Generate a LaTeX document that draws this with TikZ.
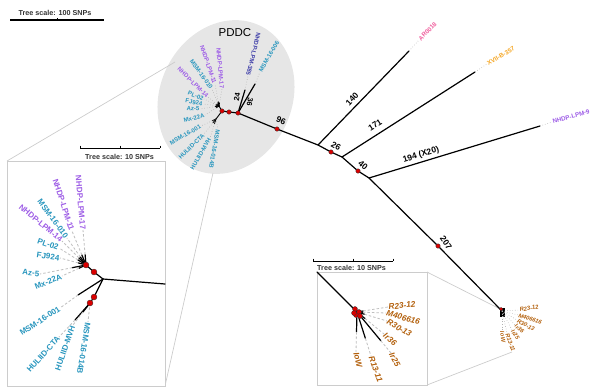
\documentclass[tikz,border=0pt]{standalone}
\usepackage{fontspec}
\setmainfont{Liberation Sans}
\usetikzlibrary{calc}
\definecolor{vio}{HTML}{9D5CE6}
\definecolor{tea}{HTML}{2896BE}
\definecolor{nav}{HTML}{3C3CA8}
\definecolor{pnk}{HTML}{F0609E}
\definecolor{org}{HTML}{F5A623}
\definecolor{brn}{HTML}{B3600C}
\definecolor{ell}{HTML}{E6E6E6}
\tikzset{br/.style = {line width=1.2pt, line cap=round},
    lf/.style = {gray!60, dotted, line width=0.6pt},
    ld/.style = {gray!50, dash pattern=on 2.5pt off 2pt, line width=0.8pt},
    gl/.style = {gray!40, line width=0.7pt},
    rd/.style = {circle, fill=red!85!black, draw=black!80, line width=0.3pt, minimum size=4.5pt, inner sep=0pt},
    ri/.style = {rd, minimum size=6pt},
    bl/.style = {font=\fontsize{8.5}{9}\selectfont\bfseries, inner sep=0pt},
    sl/.style = {font=\fontsize{7.5}{8}\selectfont\bfseries, inner sep=0pt},
    sc/.style = {font=\fontsize{7.2}{8}\selectfont\bfseries, text=black!80, inner sep=0pt},
    tm/.style = {font=\fontsize{6.2}{7}\selectfont\bfseries, inner sep=0.5pt, anchor=west},
    tp/.style = {font=\fontsize{6}{7}\selectfont\bfseries, inner sep=0.5pt},
    ti/.style = {font=\fontsize{8}{9}\selectfont\bfseries, text=tea, inner sep=0.5pt},
    tr/.style = {font=\fontsize{8.2}{9}\selectfont\bfseries\itshape, text=brn, inner sep=0.5pt, anchor=west},
    ts/.style = {font=\fontsize{5.8}{7}\selectfont\bfseries\itshape, text=brn, inner sep=0.5pt, anchor=west}}

\begin{document}
\begin{tikzpicture}[x=1pt, y=-1pt]
    \useasboundingbox (0,0) rectangle (600,391);

    \node[sc] (sc1) at (55,13) {Tree scale: 100 SNPs};
    \coordinate (b1) at (10,20); \coordinate (b2) at (104,20);
    \draw[line width=1.6pt] (b1) -- (b2);
    \draw[line width=0.6pt] (57,18) -- (57,20);

    \begin{scope}[shift={(226,97)}, rotate=-25]
        \fill[ell] (0,0) ellipse [x radius=66, y radius=79];
    \end{scope}
    \node[font=\fontsize{11.5}{12}\selectfont] (pddc) at (235,33) {PDDC};

    \coordinate (c1) at (175,62);  \coordinate (c2) at (213,173);
    \coordinate (lb1) at (7,161);  \coordinate (lb2) at (165,386);
    \coordinate (rb1) at (317,272); \coordinate (rb2) at (427,385);
    \coordinate (rb3) at (427,272); \coordinate (rb4) at (427,385);
    \coordinate (c3) at (500,309); \coordinate (c4) at (512,352);
    \draw[gl] (c1) -- (lb1);
    \draw[gl] (c2) -- (lb2);
    \draw[gl] (rb3) -- (c3);
    \draw[gl] (rb4) -- (c4);
    \draw[gl, fill=white] (lb1) rectangle (lb2);
    \draw[gl, fill=white] (rb1) rectangle (rb2);

    \draw[line width=1pt] (80,148) -- (160,148);
    \foreach \x in {80,120,160} \draw[line width=0.6pt] (\x,145.5) -- (\x,148);
    \node[sc, anchor=west] (sc2) at (85,157) {Tree scale: 10 SNPs};
    \draw[line width=1pt] (313,261) -- (393,261);
    \foreach \x in {313,353,393} \draw[line width=0.6pt] (\x,258.5) -- (\x,261);
    \node[sc, anchor=west] (sc3) at (317,268) {Tree scale: 10 SNPs};

    \coordinate (pa) at (238,113);  \coordinate (pb) at (229,112);
    \coordinate (pc) at (222,111);  \coordinate (n96) at (277,129);
    \coordinate (j1) at (318,145);  \coordinate (n26) at (331,152);
    \coordinate (j2) at (342,157);  \coordinate (n40) at (358,171);
    \coordinate (j3) at (369,178);  \coordinate (n207) at (438,246);
    \coordinate (rc) at (502,311);
    \draw[br] (pc) -- (pb) -- (pa) -- (n96) -- (j1) -- (n26) -- (j2) -- (n40) -- (j3) -- (n207) -- (rc);

    \coordinate (e140) at (409,51);
    \coordinate (e171) at (475,72);
    \coordinate (e194) at (540,126);
    \node[tm, text=pnk, rotate=45] (ar) at (419,40) {AR0018};
    \node[tm, text=org, rotate=30] (xv) at (487,64) {XVII-B-357};
    \node[tm, text=vio, rotate=16] (lp9) at (552,122) {NHDP-LPM-9};
    \draw[br] (j1) -- (e140);
    \draw[br] (j2) -- (e171);
    \draw[br] (j3) -- (e194);
    \draw[lf] (e140) -- (ar.west);
    \draw[lf] (e171) -- (xv.west);
    \draw[lf] (e194) -- (lp9.west);

    \node[bl, rotate=-22] (t96) at (281,121) {96};
    \node[bl, rotate=47] (t140) at (352,99) {140};
    \node[bl, rotate=-30] (t26) at (336,146) {26};
    \node[bl, rotate=32] (t171) at (375,125) {171};
    \node[bl, rotate=-40] (t40) at (363,165) {40};
    \node[bl, rotate=17] (t194) at (421,155) {194 (X20)};
    \node[bl, rotate=-55] (t207) at (446,243) {207};

    \coordinate (e24) at (245,90);  \coordinate (e36) at (255,84);
    \coordinate (pu) at (219,106);  \coordinate (pd) at (216,119);
    \draw[br] (pa) -- (e24);
    \draw[br] (pa) -- (e36);
    \draw[br, line width=0.9pt] (pc) -- (pu);
    \draw[br, line width=0.9pt] (pc) -- (pd);
    \node[sl, rotate=80] (t24) at (237,97) {24};
    \node[sl, rotate=-100] (t36) at (250,102) {36};
    \node[tp, text=nav, rotate=-104, anchor=east] (p385) at (248,76) {NHDP-LPM-385};
    \node[tp, text=tea, rotate=60, anchor=west] (p006) at (260,72) {MSM-16-006};
    \draw[lf] (e24) -- (p385.east);
    \draw[lf] (e36) -- (p006.west);
    \foreach \lab/\x/\y/\ang/\col [count=\i] in {NHDP-LPM-17/222/89/-85/vio, NHDP-LPM-11/215/84/-71/vio,
        MSM-16-010/212/89/-54/tea, NHDP-LPM-14/208/97/-44/vio, PL-02/204/99/-22/tea,
        FJ924/203/104/-10/tea, Az-5/200/109/-4/tea, Mx-22A/205/115/15/tea} {
        \node[tp, text=\col, rotate=\ang, anchor=east] (pt\i) at (\x,\y) {\lab};
        \draw[br, line width=0.8pt] (pu) -- ($(pu)!.2!(pt\i.east)$) coordinate (ps\i);
        \draw[lf] (ps\i) -- (pt\i.east);
    }
    \foreach \lab/\x/\y/\ang [count=\i] in {MSM-16-001/201/126/30, HULIID-CTA/204/134/45, HULIID-MVH/210/138/60} {
        \node[tp, text=tea, rotate=\ang, anchor=east] (pw\i) at (\x,\y) {\lab};
        \draw[br, line width=0.8pt] (pd) -- ($(pd)!.25!(pw\i.east)$) coordinate (pv\i);
        \draw[lf] (pv\i) -- (pw\i.east);
    }
    \node[tp, text=tea, rotate=-100, anchor=west] (p014) at (218,129) {MSM-16-014B};
    \draw[lf] (pd) -- (p014.west);

    \fill (500,308) rectangle (505,317);
    \foreach \lab/\x/\y/\ang [count=\i] in {R23-12/519/310/10, M406616/518/315/-18, R30-13/517/320/-30,
        Ir36/515/325/-40, Ir25/512/330/-55, R13-11/507/333/-70, IoW/502/331/-82} {
        \node[ts, rotate=\ang] (m\i) at (\x,\y) {\lab};
        \draw[lf] (rc) -- (m\i.west);
    }

    \foreach \n in {pa, pb, pc, n96, n26, n40, n207} \node[rd] (d\n) at (\n) {};
    \node[rd, minimum size=3.5pt] (drc) at (501,309) {};

    \coordinate (ir) at (103,279);  \coordinate (ie) at (165,284);
    \coordinate (q1) at (94,272);   \coordinate (q2) at (86,265);
    \coordinate (q3) at (94,297);   \coordinate (q4) at (90,303);
    \draw[br] (ie) -- (ir) -- (q1) -- (q2);
    \draw[br] (ir) -- (q3) -- (q4);
    \foreach \lab/\x/\y/\ang/\col [count=\i] in {NHDP-LPM-17/83/230/-85/vio, NHDP-LPM-11/72/231/-72/vio,
        MSM-16-010/67/238/-54/tea, NHDP-LPM-14/62/241/-40/vio, PL-02/59/248/-19/tea,
        FJ924/60/258/-8/tea, Az-5/40/274/-6/tea, Mx-22A/62/276/22/tea} {
        \node[ti, text=\col, rotate=\ang, anchor=east] (iu\i) at (\x,\y) {\lab};
        \draw[br] (q2) -- ($(q2)!.3!(iu\i.east)$) coordinate (iv\i);
        \draw[ld] (iv\i) -- (iu\i.east);
    }
    \node[ti, rotate=33, anchor=east] (il1) at (60,308) {MSM-16-001};
    \node[ti, rotate=48, anchor=east] (il2) at (59,337) {HULIID-CTA};
    \node[ti, rotate=71, anchor=east] (il3) at (73,325) {HULIID-MVH};
    \node[ti, rotate=-99, anchor=west] (il4) at (88,322) {MSM-16-014B};
    \coordinate (is1) at (78,295);
    \coordinate (is2) at (75,320);
    \coordinate (is3) at (83,312);
    \draw[br] (ir) -- (is1);
    \draw[br] (q4) -- (is2);
    \draw[br] (q4) -- (is3);
    \draw[ld] (is1) -- (il1.east);
    \draw[ld] (is2) -- (il2.east);
    \draw[ld] (is3) -- (il3.east);
    \draw[ld] (q4) -- (il4.west);
    \foreach \n in {q1, q2, q3, q4} \node[ri] (d\n) at (\n) {};

    \coordinate (hb) at (357,312);
    \draw[br] (rb1) -- (hb);
    \foreach \lab/\x/\y/\ang/\f [count=\i] in {R23-12/388/307/6/.2, M406616/386/313/-15/.2, R30-13/387/321/-30/.25,
        Ir36/384/334/-40/.3, Ir25/391/353/-62/.7, R13-11/371/356/-70/.6, IoW/356/352/-76/.5} {
        \node[tr, rotate=\ang] (r\i) at (\x,\y) {\lab};
        \draw[br] (hb) -- ($(hb)!\f!(r\i.west)$) coordinate (rs\i);
        \draw[ld] (rs\i) -- (r\i.west);
    }
    \foreach \x/\y [count=\i] in {355/309, 359/312, 356/315, 360/316, 354/313} \node[rd, minimum size=5pt] (h\i) at (\x,\y) {};
\end{tikzpicture}
\end{document}
